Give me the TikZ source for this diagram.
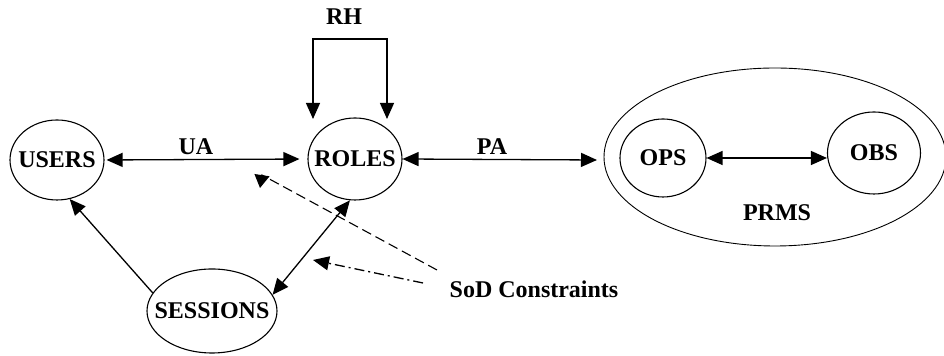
\documentclass[tikz,border=0pt]{standalone}
\usepackage{fontspec}
\setmainfont{Liberation Serif}
\usetikzlibrary{arrows.meta,shapes.geometric}
\begin{document}
\begin{tikzpicture}[x=0.5pt,y=-0.5pt,
  font=\bfseries\fontsize{12}{14}\selectfont,
  set/.style={draw,ellipse,line width=0.55pt,inner sep=0pt,
    label={[inner sep=0pt]center:#1}},
  lbl/.style={inner sep=0pt},
  tip/.style={-{Triangle[length=8pt,width=7pt]}},
  dtip/.style={{Triangle[length=8pt,width=7pt]}-{Triangle[length=8pt,width=7pt]}},
  link/.style={line width=0.65pt}]
\useasboundingbox (0,0) rectangle (944,356);

% entity sets, drawn as ellipses of fixed size with centred names
\node[set=USERS,minimum width=47pt,minimum height=40pt] (users) at (57,160) {};
\node[set=ROLES,minimum width=47pt,minimum height=41pt] (roles) at (355,159) {};
\node[set=SESSIONS,minimum width=65pt,minimum height=42pt] (sessions) at (212,311) {};
\node[set={},line width=0.45pt,minimum width=171pt,minimum height=89pt] (prms) at (775,157) {};
\node[set=OPS,minimum width=43pt,minimum height=39pt] (ops) at (663,158) {};
\node[set=OBS,minimum width=46.5pt,minimum height=41pt] (obs) at (874,153) {};

% labels
\node[lbl] (ua) at (196,147) {UA};
\node[lbl] (pa) at (492,147) {PA};
\node[lbl] (rh) at (344,17) {RH};
\node[lbl] (prmslbl) at (777,213) {PRMS};
\node[lbl] (sod) at (534,289) {SoD Constraints};

% free ends of the connectors
\coordinate (rhL) at (313,119);
\coordinate (rhTop) at (350,39);
\coordinate (rhR) at (387,119);
\coordinate (paTip) at (597,160);
\coordinate (sodA) at (437,270);
\coordinate (sodAkink) at (262,175);
\coordinate (sodAtip) at (260,188);
\coordinate (sodB) at (423,283);
\coordinate (sodBtip) at (313,260);

% user assignment
\draw[link,dtip,shorten <=1pt,shorten >=4pt] (users.east) -- (roles.west);
% permission assignment
\draw[link,dtip] (roles.east) -- (paTip);
% role hierarchy
\draw[link,dtip] (rhL) |- (rhTop) -| (rhR);
% permissions inside PRMS
\draw[link,dtip] (ops.east) -- (obs.west |- ops.east);
% sessions
\draw[link,tip] (sessions.163) -- (users.-72);
\draw[link,dtip] (sessions.15) -- (roles.-97);
% separation of duty constraints (the dashed one ends in a downward head)
\draw[line width=0.55pt,dash pattern=on 5pt off 2.5pt,
      -{Triangle[length=6.5pt,width=7.5pt]}] (sodA) -- (sodAkink) -- (sodAtip);
\draw[line width=0.65pt,dash pattern=on 5pt off 2pt on 1pt off 2pt,tip] (sodB) -- (sodBtip);
\end{tikzpicture}
\end{document}
